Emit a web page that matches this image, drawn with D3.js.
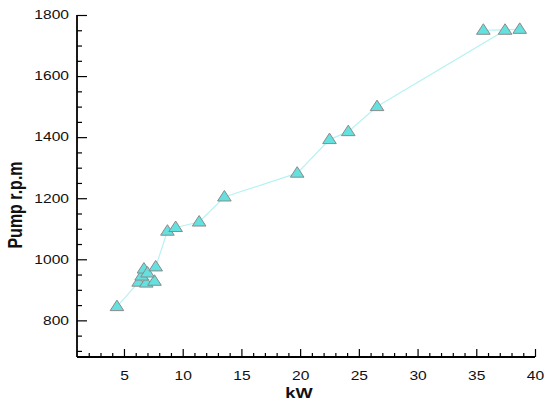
<!DOCTYPE html>
<html>
<head>
<meta charset="utf-8">
<script src="https://cdn.jsdelivr.net/npm/d3@7.9.0/dist/d3.min.js"></script>
<style>
  body { margin: 0; background: #fff; }
  svg { display: block; }
  text { font-family: "Liberation Sans", Arial, sans-serif; fill: #111; }
</style>
</head>
<body>
<svg id="chart" width="545" height="405"></svg>
<script>
// data, in the order the line connects them
const kw  = [4.4, 6.25, 6.9, 7.6, 6.5, 6.7, 7.0, 7.7, 8.7, 9.4, 11.4, 13.55, 19.75, 22.5, 24.1, 26.55, 37.45, 35.6, 38.7];
const rpm = [845, 925, 922, 928, 945, 968, 955, 975, 1092, 1104, 1122, 1204, 1282, 1392, 1418, 1500, 1750, 1750, 1753];
const xTicks = [5, 10, 15, 20, 25, 30, 35, 40];
const yTicks = [800, 1000, 1200, 1400, 1600, 1800];

const margin = { top: 15, right: 10, bottom: 48, left: 77 };
const W = 545, H = 405;
const svg = d3.select('#chart');

const x = d3.scaleLinear().domain([1, 40]).range([margin.left, W - margin.right]);
const y = d3.scaleLinear().domain([680, 1800]).range([H - margin.bottom, margin.top]);

const stretch = 'scale(1.3,1)';

// minor ticks first
svg.append('g')
    .attr('transform', `translate(0,${H - margin.bottom})`)
    .call(d3.axisTop(x).tickValues(d3.range(2, 41, 1).filter(d => d % 5 !== 0)).tickSize(4).tickFormat(''))
    .call(g => g.select('.domain').remove());
svg.append('g')
    .attr('transform', `translate(${margin.left},0)`)
    .call(d3.axisRight(y).tickValues(d3.range(700, 1800, 50).filter(d => d % 200 !== 0)).tickSize(5).tickFormat(''))
    .call(g => g.select('.domain').remove());

// major ticks + labels
const xAxis = svg.append('g')
    .attr('transform', `translate(0,${H - margin.bottom})`)
    .call(d3.axisTop(x).tickValues(xTicks).tickSize(8).tickSizeOuter(0).tickFormat(d3.format('d')));
xAxis.selectAll('.tick text')
    .attr('y', 0).attr('dy', 0)
    .attr('transform', `translate(0,23) ${stretch}`)
    .attr('font-size', 12);

const yAxis = svg.append('g')
    .attr('transform', `translate(${margin.left},0)`)
    .call(d3.axisRight(y).tickValues(yTicks).tickSize(10).tickSizeOuter(0).tickFormat(d3.format('d')));
yAxis.selectAll('.tick text')
    .attr('x', 0)
    .attr('text-anchor', 'end')
    .attr('transform', `translate(-8,0) ${stretch}`)
    .attr('font-size', 12);

svg.selectAll('.domain').attr('stroke', '#000').attr('stroke-width', 1.8);
svg.selectAll('.tick line').attr('stroke', '#000').attr('stroke-width', 1.2);

xAxis.select('.domain').attr('d', `M${margin.left},0H${W - margin.right}`);
yAxis.select('.domain').attr('d', `M0,${margin.top}V${H - margin.bottom}`);

// axis titles
svg.append('text')
    .attr('transform', `translate(299,398) ${stretch}`)
    .attr('text-anchor', 'middle')
    .attr('font-size', 14).attr('font-weight', 'bold')
    .text('kW');
svg.append('text')
    .attr('transform', `translate(22,205) ${stretch} rotate(-90)`)
    .attr('text-anchor', 'middle')
    .attr('font-size', 16).attr('font-weight', 'bold')
    .text('Pump r.p.m');

// connecting line
const pts = kw.map((k, i) => [k, rpm[i]]);
svg.append('path')
    .datum(pts)
    .attr('fill', 'none')
    .attr('stroke', '#b8f2f2')
    .attr('stroke-width', 1.2)
    .attr('d', d3.line().x(d => x(d[0])).y(d => y(d[1])));

// triangle markers
const tri = 'M0,-6.5L6.8,4L-6.8,4Z';
svg.append('g')
    .selectAll('path')
    .data(pts)
    .join('path')
    .attr('transform', d => `translate(${x(d[0])},${y(d[1])})`)
    .attr('d', tri)
    .attr('fill', '#64e0de')
    .attr('stroke', '#8a8a8a')
    .attr('stroke-width', 1);
</script>
</body>
</html>
